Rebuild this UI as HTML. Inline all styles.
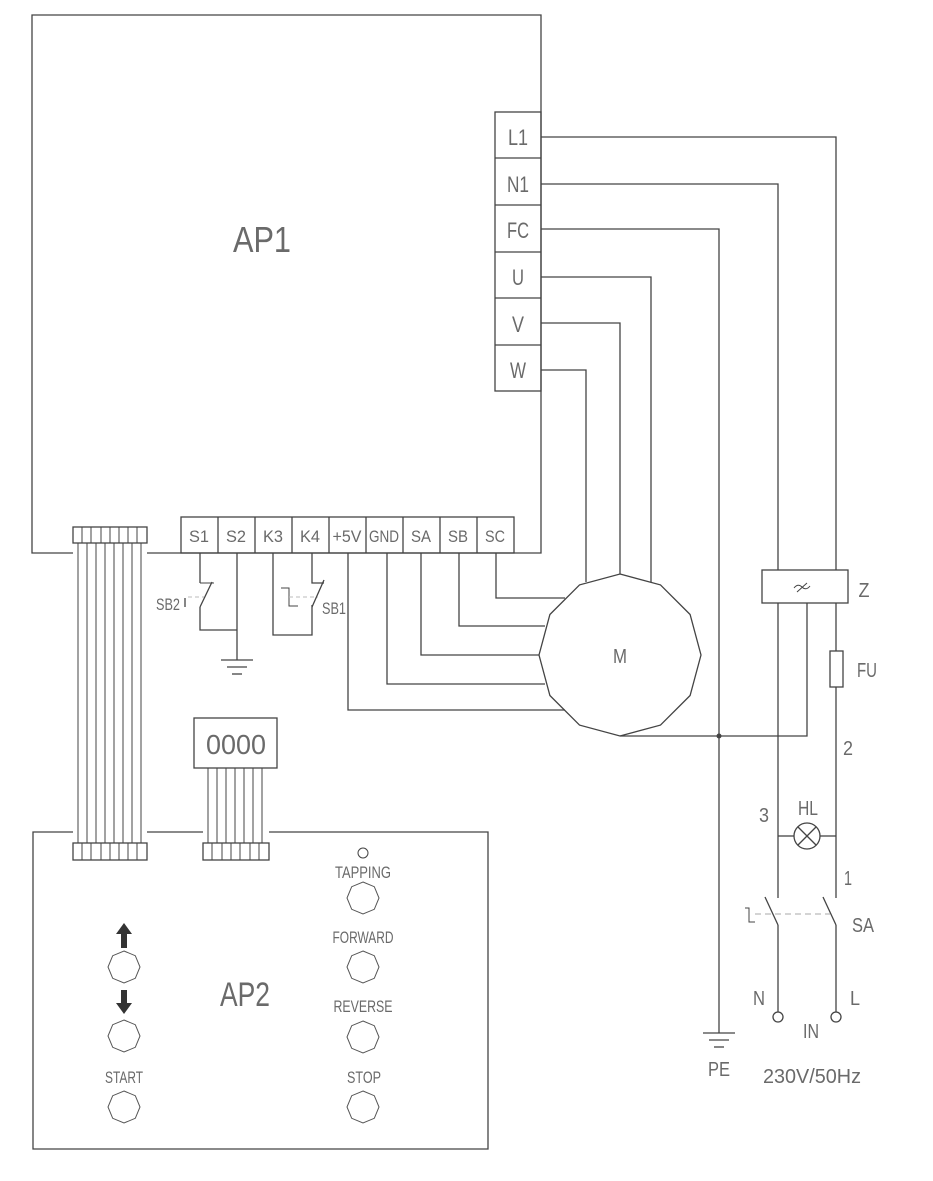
<!DOCTYPE html>
<html><head><meta charset="utf-8"><style>
html,body{margin:0;padding:0;background:#fff;}
svg{display:block;}
text{font-family:"Liberation Sans",sans-serif;fill:#6a6a6a;}
</style></head><body>
<svg width="933" height="1181" viewBox="0 0 933 1181" xmlns="http://www.w3.org/2000/svg">
<defs>
<polygon id="oct" points="0,-16 11.3,-11.3 16,0 11.3,11.3 0,16 -11.3,11.3 -16,0 -11.3,-11.3" fill="none" stroke="#555" stroke-width="1"/>
</defs>
<g fill="none" stroke="#444" stroke-width="1.3">
<polyline points="73,553 32,553 32,15 541,15 541,553 147,553"/>
<rect x="495" y="112" width="46" height="279"/>
<line x1="495" y1="158" x2="541" y2="158"/><line x1="495" y1="205" x2="541" y2="205"/>
<line x1="495" y1="252" x2="541" y2="252"/><line x1="495" y1="298" x2="541" y2="298"/>
<line x1="495" y1="345" x2="541" y2="345"/>
<rect x="181" y="517" width="333" height="36"/>
<line x1="218" y1="517" x2="218" y2="553"/><line x1="255" y1="517" x2="255" y2="553"/>
<line x1="292" y1="517" x2="292" y2="553"/><line x1="329" y1="517" x2="329" y2="553"/>
<line x1="366" y1="517" x2="366" y2="553"/><line x1="403" y1="517" x2="403" y2="553"/>
<line x1="440" y1="517" x2="440" y2="553"/><line x1="477" y1="517" x2="477" y2="553"/>
<polyline points="541,137 836,137 836,570"/>
<polyline points="541,184 778,184 778,570"/>
<polyline points="541,229 719,229 719,1033"/>
<polyline points="541,277 651,277 651,582"/>
<polyline points="541,323 620,323 620,574"/>
<polyline points="541,370 586,370 586,582"/>
<polygon points="620,574 660.5,584.9 690.1,614.5 701,655 690.1,695.5 660.5,725.1 620,736 579.5,725.1 549.9,695.5 539,655 549.9,614.5 579.5,584.9"/>
<polyline points="496,553 496,598 565,598"/>
<polyline points="459,553 459,626 545,626"/>
<polyline points="421,553 421,655 539,655"/>
<polyline points="387,553 387,684 545,684"/>
<polyline points="348,553 348,710 565,710"/>
<polyline points="620,736 719,736"/>
<polyline points="719,736 807,736 807,603"/>
<rect x="762" y="570" width="86" height="33"/>
<path d="M794,588 q4,-5 8,-1 t8,-1" stroke-width="1"/>
<line x1="797" y1="592" x2="807" y2="583" stroke-width="1"/>
<line x1="778" y1="603" x2="778" y2="898"/>
<line x1="836" y1="603" x2="836" y2="898"/>
<rect x="830" y="651" width="13" height="36" fill="#fff"/>
<line x1="778" y1="836" x2="794" y2="836"/><line x1="820" y1="836" x2="836" y2="836"/>
<circle cx="807" cy="836" r="13"/>
<line x1="798" y1="827" x2="816" y2="845"/><line x1="816" y1="827" x2="798" y2="845"/>
<line x1="765" y1="897" x2="778" y2="925"/><line x1="778" y1="925" x2="778" y2="1012"/>
<line x1="823" y1="897" x2="836" y2="925"/><line x1="836" y1="925" x2="836" y2="1012"/>
<line x1="755" y1="914" x2="830" y2="914" stroke="#aaa" stroke-width="1" stroke-dasharray="6,4"/>
<polyline points="745,908 749,908 749,922 755,922" stroke-width="1"/>
<circle cx="778" cy="1017" r="5"/><circle cx="836" cy="1017" r="5"/>
<line x1="703" y1="1033" x2="735" y2="1033"/><line x1="709" y1="1040" x2="729" y2="1040"/><line x1="714" y1="1047" x2="724" y2="1047"/>
<polyline points="200,553 200,583"/>
<polyline points="200,607 200,630 237,630"/>
<line x1="200" y1="607" x2="212" y2="582"/>
<line x1="200" y1="583" x2="214" y2="583" stroke-width="1"/>
<line x1="185" y1="598" x2="185" y2="607"/>
<line x1="188" y1="597" x2="204" y2="597" stroke="#bbb" stroke-width="1" stroke-dasharray="4,3"/>
<line x1="237" y1="553" x2="237" y2="660"/>
<line x1="221" y1="660" x2="253" y2="660"/><line x1="227" y1="667" x2="247" y2="667"/><line x1="232" y1="674" x2="242" y2="674"/>
<polyline points="273,553 273,635 312,635 312,605"/>
<polyline points="312,553 312,583 324,583"/>
<line x1="312" y1="607" x2="324" y2="580"/>
<polyline points="281,588 289,588 289,606 298,606" stroke-width="1"/>
<line x1="289" y1="597" x2="318" y2="597" stroke="#bbb" stroke-width="1" stroke-dasharray="4,3"/>
<rect x="73" y="527" width="74" height="16"/>
<rect x="73" y="843" width="74" height="17"/>
<g stroke-width="1">
<line x1="82" y1="527" x2="82" y2="543"/><line x1="91" y1="527" x2="91" y2="543"/><line x1="101" y1="527" x2="101" y2="543"/><line x1="110" y1="527" x2="110" y2="543"/><line x1="119" y1="527" x2="119" y2="543"/><line x1="128" y1="527" x2="128" y2="543"/><line x1="137" y1="527" x2="137" y2="543"/>
<line x1="82" y1="843" x2="82" y2="860"/><line x1="91" y1="843" x2="91" y2="860"/><line x1="101" y1="843" x2="101" y2="860"/><line x1="110" y1="843" x2="110" y2="860"/><line x1="119" y1="843" x2="119" y2="860"/><line x1="128" y1="843" x2="128" y2="860"/><line x1="137" y1="843" x2="137" y2="860"/>
<line x1="78" y1="543" x2="78" y2="843"/><line x1="87" y1="543" x2="87" y2="843"/><line x1="96" y1="543" x2="96" y2="843"/><line x1="105" y1="543" x2="105" y2="843"/><line x1="114" y1="543" x2="114" y2="843"/><line x1="123" y1="543" x2="123" y2="843"/><line x1="132" y1="543" x2="132" y2="843"/><line x1="141" y1="543" x2="141" y2="843"/>
</g>
<rect x="194" y="718" width="83" height="50"/>
<rect x="203" y="843" width="66" height="17"/>
<g stroke-width="1">
<line x1="212" y1="843" x2="212" y2="860"/><line x1="222" y1="843" x2="222" y2="860"/><line x1="231" y1="843" x2="231" y2="860"/><line x1="240" y1="843" x2="240" y2="860"/><line x1="250" y1="843" x2="250" y2="860"/><line x1="259" y1="843" x2="259" y2="860"/>
<line x1="208" y1="768" x2="208" y2="843"/><line x1="217" y1="768" x2="217" y2="843"/><line x1="226" y1="768" x2="226" y2="843"/><line x1="235" y1="768" x2="235" y2="843"/><line x1="244" y1="768" x2="244" y2="843"/><line x1="253" y1="768" x2="253" y2="843"/><line x1="262" y1="768" x2="262" y2="843"/>
</g>
<polyline points="73,832 33,832 33,1149 488,1149 488,832 269,832"/>
<line x1="147" y1="832" x2="203" y2="832"/>
<circle cx="363" cy="853" r="5" stroke-width="1"/>
</g>
<use href="#oct" x="363" y="898"/><use href="#oct" x="363" y="967"/><use href="#oct" x="363" y="1037"/><use href="#oct" x="363" y="1107"/>
<use href="#oct" x="124" y="967"/><use href="#oct" x="124" y="1036"/><use href="#oct" x="124" y="1107"/>
<polygon points="124,923 132,934 127,934 127,948 121,948 121,934 116,934" fill="#333"/>
<polygon points="124,1014 132,1003 127,1003 127,990 121,990 121,1003 116,1003" fill="#333"/>
<circle cx="719" cy="736" r="2.5" fill="#444"/>
<g font-size="22" text-anchor="middle">
<text x="518" y="145" textLength="20" lengthAdjust="spacingAndGlyphs">L1</text>
<text x="518" y="192" textLength="22" lengthAdjust="spacingAndGlyphs">N1</text>
<text x="518" y="238" textLength="22" lengthAdjust="spacingAndGlyphs">FC</text>
<text x="518" y="285" textLength="12" lengthAdjust="spacingAndGlyphs">U</text>
<text x="518" y="332" textLength="12" lengthAdjust="spacingAndGlyphs">V</text>
<text x="518" y="378" textLength="16" lengthAdjust="spacingAndGlyphs">W</text>
</g>
<g font-size="17" text-anchor="middle">
<text x="199" y="542" textLength="20" lengthAdjust="spacingAndGlyphs">S1</text>
<text x="236" y="542" textLength="20" lengthAdjust="spacingAndGlyphs">S2</text>
<text x="273" y="542" textLength="20" lengthAdjust="spacingAndGlyphs">K3</text>
<text x="310" y="542" textLength="20" lengthAdjust="spacingAndGlyphs">K4</text>
<text x="347" y="542" textLength="29" lengthAdjust="spacingAndGlyphs">+5V</text>
<text x="384" y="542" textLength="30" lengthAdjust="spacingAndGlyphs">GND</text>
<text x="421" y="542" textLength="20" lengthAdjust="spacingAndGlyphs">SA</text>
<text x="458" y="542" textLength="20" lengthAdjust="spacingAndGlyphs">SB</text>
<text x="495" y="542" textLength="20" lengthAdjust="spacingAndGlyphs">SC</text>
<text x="168" y="610" textLength="24" lengthAdjust="spacingAndGlyphs">SB2</text>
<text x="334" y="614" textLength="24" lengthAdjust="spacingAndGlyphs">SB1</text>
<text x="620" y="663" font-size="20" textLength="14" lengthAdjust="spacingAndGlyphs">M</text>
<text x="864" y="597" font-size="20" textLength="11" lengthAdjust="spacingAndGlyphs">Z</text>
<text x="867" y="677" font-size="20" textLength="20" lengthAdjust="spacingAndGlyphs">FU</text>
<text x="848" y="755" font-size="20" textLength="10" lengthAdjust="spacingAndGlyphs">2</text>
<text x="764" y="822" font-size="20" textLength="10" lengthAdjust="spacingAndGlyphs">3</text>
<text x="808" y="815" font-size="20" textLength="20" lengthAdjust="spacingAndGlyphs">HL</text>
<text x="848" y="885" font-size="20" textLength="8" lengthAdjust="spacingAndGlyphs">1</text>
<text x="863" y="932" font-size="20" textLength="22" lengthAdjust="spacingAndGlyphs">SA</text>
<text x="759" y="1005" font-size="20" textLength="12" lengthAdjust="spacingAndGlyphs">N</text>
<text x="855" y="1005" font-size="20" textLength="10" lengthAdjust="spacingAndGlyphs">L</text>
<text x="811" y="1038" font-size="20" textLength="16" lengthAdjust="spacingAndGlyphs">IN</text>
<text x="719" y="1076" font-size="20" textLength="22" lengthAdjust="spacingAndGlyphs">PE</text>
<text x="812" y="1083" font-size="20" textLength="98" lengthAdjust="spacingAndGlyphs">230V/50Hz</text>
<text x="236" y="754" font-size="28" textLength="60" lengthAdjust="spacingAndGlyphs">0000</text>
<text x="262" y="252" font-size="36" textLength="58" lengthAdjust="spacingAndGlyphs">AP1</text>
<text x="245" y="1006" font-size="34" textLength="50" lengthAdjust="spacingAndGlyphs">AP2</text>
<text x="363" y="878" textLength="56" lengthAdjust="spacingAndGlyphs">TAPPING</text>
<text x="363" y="943" textLength="61" lengthAdjust="spacingAndGlyphs">FORWARD</text>
<text x="363" y="1012" textLength="59" lengthAdjust="spacingAndGlyphs">REVERSE</text>
<text x="364" y="1083" textLength="34" lengthAdjust="spacingAndGlyphs">STOP</text>
<text x="124" y="1083" textLength="38" lengthAdjust="spacingAndGlyphs">START</text>
</g>
</svg>
</body></html>
